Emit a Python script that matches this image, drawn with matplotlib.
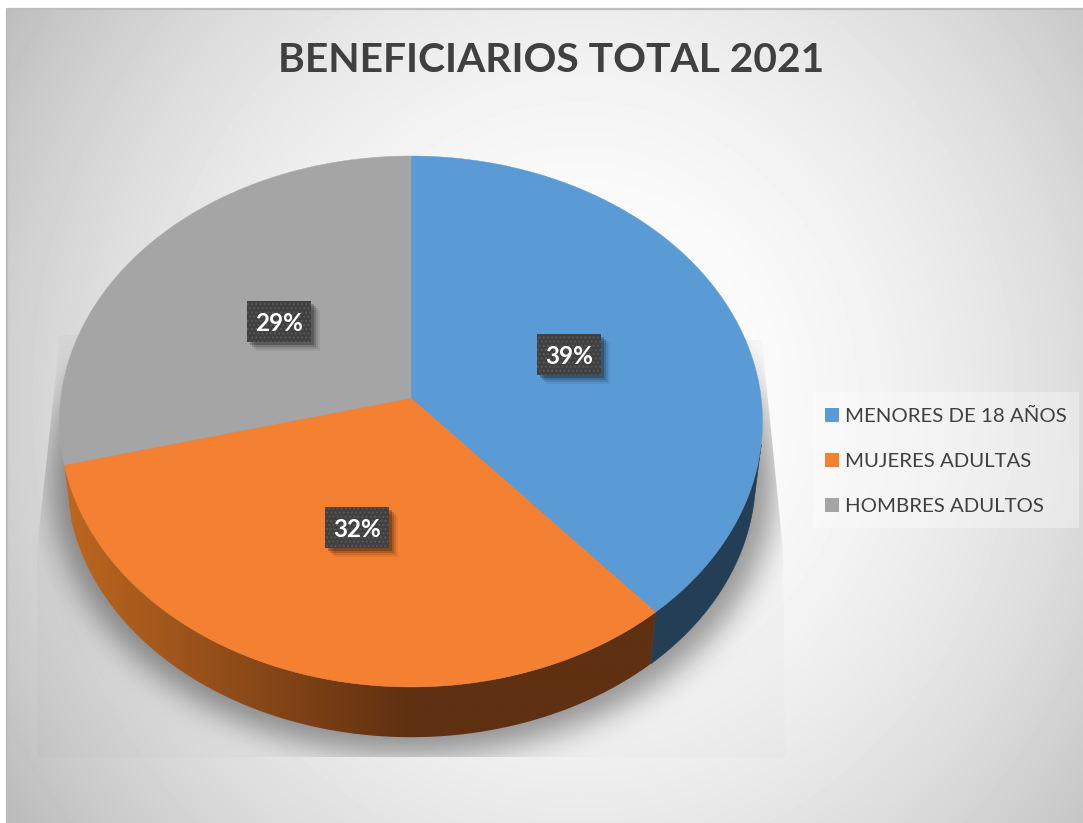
import numpy as np
import matplotlib
matplotlib.use('Agg')
import matplotlib.pyplot as plt
from matplotlib.patches import Patch, Polygon, Rectangle
from matplotlib.path import Path

title = 'BENEFICIARIOS TOTAL 2021'
categories = ['MENORES DE 18 AÑOS', 'MUJERES ADULTAS', 'HOMBRES ADULTOS']
values = [38.7, 32.3, 29.0]
colors = ['#5B9BD5', '#F48031', '#A5A5A5']

W, H = 1083, 823
# pie geometry in pixels, tilted disc with a little perspective
APEX = (411, 398)
A, B, K = 350.1, 263.4, 0.0885
RIM_S, RIM_D = 0.98, 56


def project(theta, r=1.0):
    # theta clockwise from 12 o'clock
    w = 1 + K * r * np.cos(theta)
    return APEX[0] + A * r * np.sin(theta) / w, APEX[1] - B * r * np.cos(theta) / w


def project_low(theta):
    x, y = project(theta)
    return APEX[0] + (x - APEX[0]) * RIM_S, APEX[1] + RIM_D + (y - APEX[1]) * RIM_S


def box_blur(a, n, passes=3):
    kernel = np.ones(n) / n
    for _ in range(passes):
        a = np.apply_along_axis(lambda v: np.convolve(v, kernel, mode='same'), 0, a)
        a = np.apply_along_axis(lambda v: np.convolve(v, kernel, mode='same'), 1, a)
    return a


fig = plt.figure(figsize=(W / 100, H / 100), dpi=100, facecolor='white')
ax = fig.add_axes([0, 0, 1, 1])
ax.set_xlim(0, W)
ax.set_ylim(H, 0)
ax.axis('off')
plt.rcParams['hatch.linewidth'] = 1.0

# background gradient
yy, xx = np.mgrid[9:823, 7:1083]
d = (((xx - 580) / 535.0) ** 2 + 0.5 * ((yy - 400) / 407.0) ** 2) / 1.5
bg = np.clip(1 - 0.24 * d, 0, 1)
ax.imshow(bg, extent=(7, 1083, 823, 9), cmap='gray', vmin=0, vmax=1, aspect='auto', zorder=0)
ax.plot([7, 7, 1083], [823, 9, 9], color='#bdbdbd', lw=1.6, zorder=1)

# soft shadow under the disc, cut off by a trapezoid
t = np.linspace(0, 2 * np.pi, 720)
sx, sy = project_low(t)
sx = APEX[0] + (sx - APEX[0]) * 1.05
sy = 430 + (sy - 430) * 1.05
yy, xx = np.mgrid[0:H, 0:W]
mask = Path(np.c_[sx, sy]).contains_points(np.c_[xx.ravel(), yy.ravel()]).reshape(H, W).astype(float)
shadow = box_blur(mask, 28)
rgba = np.zeros((H, W, 4))
rgba[..., 3] = shadow * 0.38 + 0.015
im = ax.imshow(rgba, extent=(0, W, H, 0), aspect='auto', zorder=2)
trap = Polygon([(60, 335), (37, 550), (37, 757), (785, 757), (783, 550), (762, 340)],
               transform=ax.transData, fc='none', ec='none')
ax.add_patch(trap)
im.set_clip_path(trap)

# slice angles
edges = np.cumsum([0] + values) / sum(values) * 2 * np.pi
rim_dark = ['#243F55', '#5F3011']

# side wall, only the part facing the viewer
for i in range(2):
    lo, hi = edges[i], edges[i + 1]
    lo = max(lo, np.radians(100))
    a = np.linspace(lo, hi, 200)
    tx, ty = project(a)
    bx, by = project_low(a)
    pts = np.r_[np.c_[tx, ty], np.c_[bx, by][::-1]]
    if i == 1:
        # orange wall gets lighter towards the left
        poly = Polygon(pts, fc='none', ec='none')
        ax.add_patch(poly)
        base = np.array([0x5F, 0x30, 0x11]) / 255
        light = np.array([0xBC, 0x66, 0x20]) / 255
        frac = np.clip((410 - np.linspace(60, 660, 400)) / 340, 0, 1)
        grad = (base + (light - base) * frac[:, None])[None, :, :]
        gi = ax.imshow(grad, extent=(60, 660, 760, 400), aspect='auto', zorder=3)
        gi.set_clip_path(poly)
    else:
        ax.add_patch(Polygon(pts, fc=rim_dark[i], ec=rim_dark[i], lw=0.5, zorder=3))

# top face
for i in range(3):
    a = np.linspace(edges[i], edges[i + 1], 300)
    tx, ty = project(a)
    pts = np.r_[[APEX], np.c_[tx, ty]]
    ax.add_patch(Polygon(pts, fc=colors[i], ec=colors[i], lw=0.3, zorder=4))

# data labels
for i, v in enumerate(values):
    mid = (edges[i] + edges[i + 1]) / 2
    x, y = project(mid, 0.49)
    y += 1
    bw, bh = 64, 41
    for off, al in [(9, 0.06), (7, 0.10), (5, 0.16), (3, 0.22)]:
        ax.add_patch(Rectangle((x - bw / 2 + off, y - bh / 2 + off), bw, bh, fc='black', ec='none', alpha=al, zorder=5))
    ax.add_patch(Rectangle((x - bw / 2, y - bh / 2), bw, bh, fc='#404040', ec='#585858', hatch='....', lw=0, zorder=6))
    ax.text(x, y + 2, '%.0f%%' % v, color='white', fontsize=17.5, fontweight='bold', family='Lato',
            ha='center', va='center', zorder=7)

ax.text(551, 60, title, color='#404040', fontsize=29.3, fontweight='bold', family='Lato', ha='center', va='center')

ax.add_patch(Rectangle((813, 392), 266, 136, fc='white', alpha=0.35, ec='none', zorder=7))
handles = [Patch(fc=c, ec='none', label=n) for c, n in zip(colors, categories)]
leg = ax.legend(handles=handles, loc='upper left', bbox_to_anchor=(825 / W, 1 - 408 / H), frameon=False,
                handlelength=0.68, handleheight=0.68, handletextpad=0.28, labelspacing=1.37, borderaxespad=0,
                borderpad=0, labelcolor='#404040', prop={'family': 'Lato', 'size': 14.7})
leg.set_zorder(8)

plt.savefig('out.png', dpi=100)
